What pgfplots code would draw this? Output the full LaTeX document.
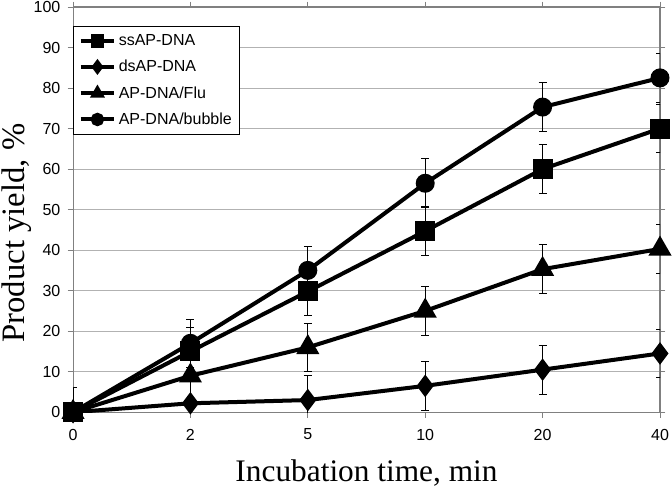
\documentclass[border=0pt]{standalone}
\usepackage{pgfplots}
\pgfplotsset{compat=1.18}
\usetikzlibrary{calc}
\usepackage{fontspec}
\setmainfont{Liberation Serif}
\newfontfamily\arial{Liberation Sans}
\begin{document}
\begin{tikzpicture}
\begin{axis}[
  name=ax,
  scale only axis,
  width=440pt, height=303.75pt,
  xmin=0, xmax=5, ymin=0, ymax=100,
  xtick={0,1,2,3,4,5},
  xticklabels={0,2,5,10,20,40},
  ytick={0,10,...,100},
  ymajorgrids, xmajorgrids=false,
  grid style={gray!60, line width=0.6pt},
  axis line style={gray, line width=0.8pt},
  tick style={gray, line width=0.6pt},
  major tick length=4pt,
  tick align=outside,
  tick label style={font=\arial\fontsize{12}{14}\selectfont},
  xticklabel style={yshift=-5pt},
  yticklabel style={xshift=-2pt},
  /pgf/number format/assume math mode=true,
  xlabel={Incubation time, min},
  ylabel={Product yield, \%},
  xlabel style={font=\fontsize{23.5}{26}\selectfont, at={(axis description cs:0.5,-0.170)}, anchor=base},
  ylabel style={font=\fontsize{24.5}{27}\selectfont, at={(axis description cs:-0.0835,0.442)}, anchor=base, rotate=0},
  clip mode=individual,
  legend style={at={(0.0,0.953)}, anchor=north west, draw=black, line width=0.6pt,
    font=\arial\fontsize{12}{14}\selectfont, row sep=5.5pt, inner xsep=4pt, inner ysep=4pt},
  legend cell align=left,
  legend image code/.code={\draw[#1] (0pt,0pt) -- (25pt,0pt); \draw[#1, mark size=3.5pt, mark repeat=2, mark phase=2] plot coordinates {(0pt,0pt) (12.5pt,0pt) (25pt,0pt)};},
  error bars/error bar style={line width=0.7pt, black},
  error bars/error mark options={mark size=3pt, line width=0.7pt, black, rotate=90},
]
\addplot[black, line width=3pt, mark=square*, mark size=6pt, mark options={solid, fill=black},
  error bars/.cd, y dir=both, y explicit]
  coordinates {(0,0) +- (0,6) (1,15) +- (0,6) (2,29.8) +- (0,6) (3,44.7) +- (0,6) (4,60) +- (0,6) (5,70) +- (0,6)};
\addlegendentry{ssAP-DNA}
\addplot[black, line width=3pt, mark=diamond*, mark size=6pt, mark options={solid, fill=black},
  error bars/.cd, y dir=both, y explicit]
  coordinates {(0,0) +- (0,6) (1,2.2) +- (0,6) (2,3) +- (0,6) (3,6.5) +- (0,6) (4,10.5) +- (0,6) (5,14.5) +- (0,6)};
\addlegendentry{dsAP-DNA}
\addplot[black, line width=3pt, mark=triangle*, mark size=7pt, mark options={solid, fill=black},
  error bars/.cd, y dir=both, y explicit]
  coordinates {(0,0) +- (0,6) (1,9) +- (0,6) (2,16) +- (0,6) (3,25) +- (0,6) (4,35.3) +- (0,6) (5,40.3) +- (0,6)};
\addlegendentry{AP-DNA/Flu}
\addplot[black, line width=3pt, mark=*, mark size=5.6pt, mark options={solid, fill=black},
  error bars/.cd, y dir=both, y explicit]
  coordinates {(0,0) +- (0,6) (1,17) +- (0,6) (2,35) +- (0,6) (3,56.5) +- (0,6) (4,75.3) +- (0,6) (5,82.5) +- (0,6)};
\addlegendentry{AP-DNA/bubble}
\end{axis}
\pgfresetboundingbox
\path ($(ax.south west)+(-54.75pt,-57pt)$) rectangle ($(ax.north east)+(9pt,5.25pt)$);
\end{tikzpicture}
\end{document}
